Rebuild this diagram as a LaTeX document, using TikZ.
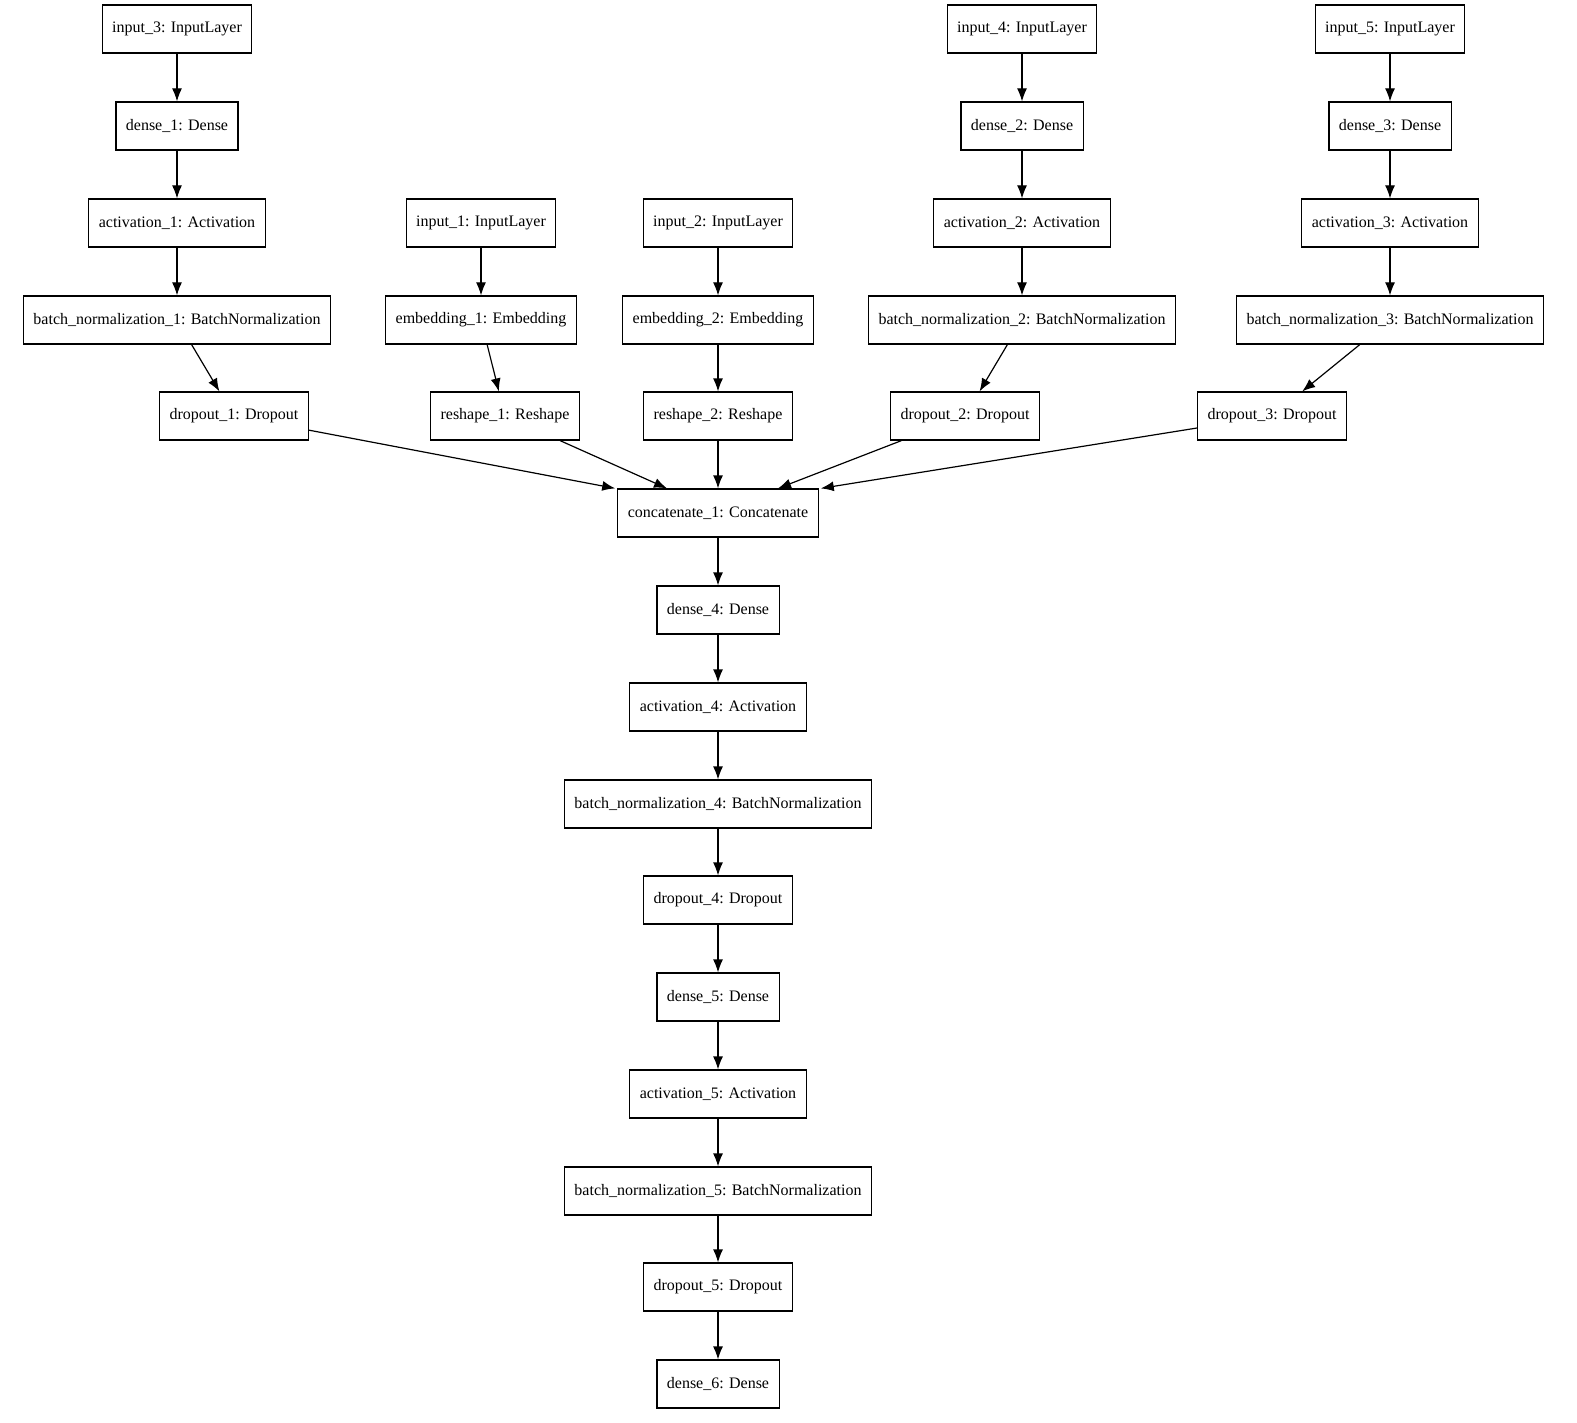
\documentclass[tikz,border=0pt]{standalone}
\usepackage{fontspec}
\setmainfont{Liberation Serif}
\usetikzlibrary{arrows.meta}
\begin{document}
\begin{tikzpicture}[x=1pt,y=-1pt,
  layer/.style={draw, line width=1.2pt, minimum height=48pt, inner xsep=10pt, font=\fontsize{16}{19}\selectfont},
  flow/.style={-{Latex[length=13pt,width=10pt]}, line width=1.2pt}]
\useasboundingbox (0,0) rectangle (1577,1423);
% Branch of input_3
\node[layer] (in3) at (177,29) {input\_3: InputLayer};
\node[layer] (de1) at (177,126) {dense\_1: Dense};
\node[layer] (ac1) at (177,223) {activation\_1: Activation};
\node[layer] (bn1) at (177,320) {batch\_normalization\_1: BatchNormalization};
\node[layer] (dr1) at (234,416) {dropout\_1: Dropout};
% Embedding branches
\node[layer] (in1) at (481,223) {input\_1: InputLayer};
\node[layer] (em1) at (481,320) {embedding\_1: Embedding};
\node[layer] (rs1) at (505,416) {reshape\_1: Reshape};
\node[layer] (in2) at (718,223) {input\_2: InputLayer};
\node[layer] (em2) at (718,320) {embedding\_2: Embedding};
\node[layer] (rs2) at (718,416) {reshape\_2: Reshape};
% Branch of input_4
\node[layer] (in4) at (1022,29) {input\_4: InputLayer};
\node[layer] (de2) at (1022,126) {dense\_2: Dense};
\node[layer] (ac2) at (1022,223) {activation\_2: Activation};
\node[layer] (bn2) at (1022,320) {batch\_normalization\_2: BatchNormalization};
\node[layer] (dr2) at (965,416) {dropout\_2: Dropout};
% Branch of input_5
\node[layer] (in5) at (1390,29) {input\_5: InputLayer};
\node[layer] (de3) at (1390,126) {dense\_3: Dense};
\node[layer] (ac3) at (1390,223) {activation\_3: Activation};
\node[layer] (bn3) at (1390,320) {batch\_normalization\_3: BatchNormalization};
\node[layer] (dr3) at (1272,416) {dropout\_3: Dropout};
% Trunk
\node[layer] (cat) at (718,513) {concatenate\_1: Concatenate};
\node[layer] (de4) at (718,610) {dense\_4: Dense};
\node[layer] (ac4) at (718,707) {activation\_4: Activation};
\node[layer] (bn4) at (718,804) {batch\_normalization\_4: BatchNormalization};
\node[layer] (dr4) at (718,900) {dropout\_4: Dropout};
\node[layer] (de5) at (718,997) {dense\_5: Dense};
\node[layer] (ac5) at (718,1094) {activation\_5: Activation};
\node[layer] (bn5) at (718,1191) {batch\_normalization\_5: BatchNormalization};
\node[layer] (dr5) at (718,1287) {dropout\_5: Dropout};
\node[layer] (de6) at (718,1384) {dense\_6: Dense};

% Edges
\foreach \a/\b in {in3/de1,de1/ac1,ac1/bn1,bn1/dr1,in1/em1,em1/rs1,in2/em2,em2/rs2,
  in4/de2,de2/ac2,ac2/bn2,bn2/dr2,in5/de3,de3/ac3,ac3/bn3,bn3/dr3,rs2/cat,
  cat/de4,de4/ac4,ac4/bn4,bn4/dr4,dr4/de5,de5/ac5,ac5/bn5,bn5/dr5,dr5/de6}
  \draw[flow] (\a) -- (\b);
\draw[flow] (dr1) -- ([xshift=-2pt]cat.north west);
\draw[flow] (rs1) -- ([xshift=-51pt]cat.north);
\draw[flow] (dr2) -- ([xshift=60pt]cat.north);
\draw[flow] (dr3) -- ([xshift=2pt]cat.north east);
\end{tikzpicture}
\end{document}
